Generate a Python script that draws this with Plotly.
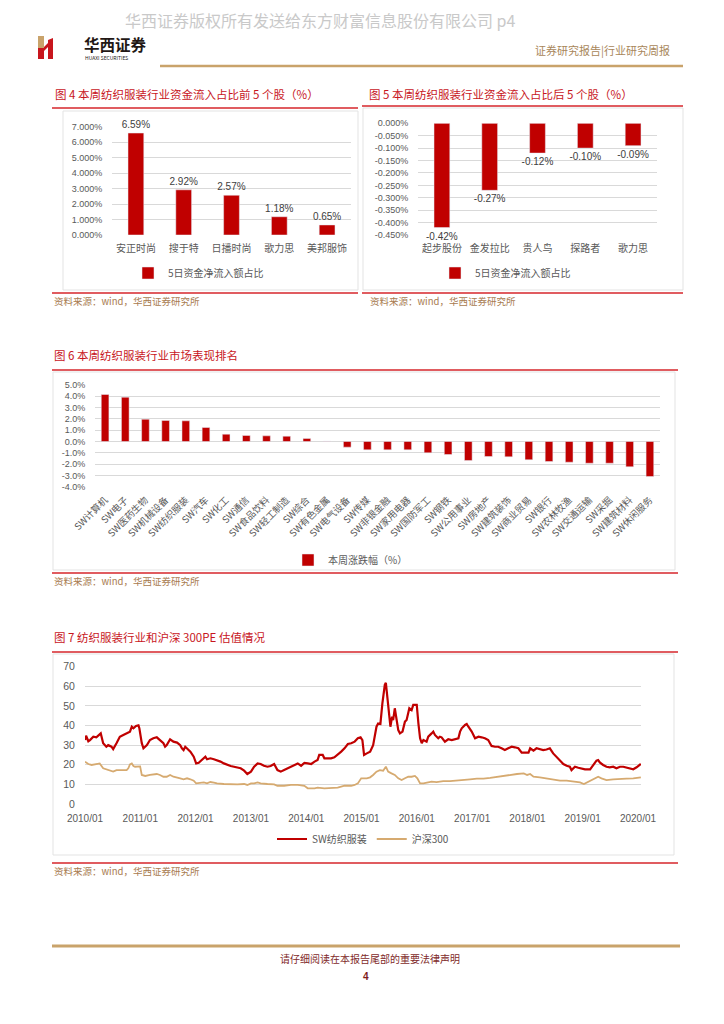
import plotly.graph_objects as go

W, H = 724, 1024


def px(x):
    return x / W


def py(y):
    return 1 - y / H


# ---------------- data ----------------
# Fig 4: top-5 stocks by 5-day net inflow share
top5_names = ['安正时尚', '搜于特', '日播时尚', '歌力思', '美邦服饰']
top5_vals = [6.59, 2.92, 2.57, 1.18, 0.65]
top5_labels = ['6.59%', '2.92%', '2.57%', '1.18%', '0.65%']
top5_tickvals = [0, 1, 2, 3, 4, 5, 6, 7]
top5_ticktext = ['0.000%', '1.000%', '2.000%', '3.000%', '4.000%', '5.000%', '6.000%', '7.000%']

# Fig 5: bottom-5 stocks
bot5_names = ['起步股份', '金发拉比', '贵人鸟', '探路者', '歌力思']
bot5_vals = [-0.42, -0.27, -0.12, -0.10, -0.09]
bot5_labels = ['-0.42%', '-0.27%', '-0.12%', '-0.10%', '-0.09%']
bot5_tickvals = [0, -0.05, -0.10, -0.15, -0.20, -0.25, -0.30, -0.35, -0.40, -0.45]
bot5_ticktext = ['0.000%', '-0.050%', '-0.100%', '-0.150%', '-0.200%', '-0.250%',
                 '-0.300%', '-0.350%', '-0.400%', '-0.450%']

# Fig 6: industry weekly performance ranking
ind_names = ['SW计算机', 'SW电子', 'SW医药生物', 'SW机械设备', 'SW纺织服装', 'SW汽车', 'SW化工',
             'SW通信', 'SW食品饮料', 'SW轻工制造', 'SW综合', 'SW有色金属', 'SW电气设备', 'SW传媒',
             'SW非银金融', 'SW家用电器', 'SW国防军工', 'SW钢铁', 'SW公用事业', 'SW房地产',
             'SW建筑装饰', 'SW商业贸易', 'SW银行', 'SW农林牧渔', 'SW交通运输', 'SW采掘',
             'SW建筑材料', 'SW休闲服务']
ind_vals = [4.16, 3.92, 1.97, 1.86, 1.83, 1.24, 0.65, 0.53, 0.50, 0.47, 0.27, 0.03, -0.50,
            -0.74, -0.74, -0.74, -1.00, -1.15, -1.68, -1.33, -1.36, -1.62, -1.77, -1.83,
            -1.92, -1.92, -2.24, -3.10]
ind_tickvals = [5, 4, 3, 2, 1, 0, -1, -2, -3, -4]
ind_ticktext = ['5.0%', '4.0%', '3.0%', '2.0%', '1.0%', '0.0%', '-1.0%', '-2.0%', '-3.0%', '-4.0%']

# Fig 7: PE valuation
sw_dates = ['2010-01-01', '2010-01-08', '2010-01-23', '2010-02-03', '2010-02-25', '2010-03-17',
            '2010-04-15', '2010-05-01', '2010-05-22', '2010-06-03', '2010-06-25', '2010-07-06',
            '2010-07-28', '2010-08-19', '2010-09-11', '2010-10-03', '2010-10-25', '2010-11-06',
            '2010-11-17', '2010-12-04', '2010-12-20', '2010-12-26', '2011-01-11', '2011-01-22',
            '2011-02-14', '2011-03-06', '2011-03-28', '2011-04-20', '2011-05-11', '2011-06-03',
            '2011-06-14', '2011-06-25', '2011-07-17', '2011-08-08', '2011-09-01', '2011-09-22',
            '2011-10-03', '2011-10-14', '2011-10-25', '2011-11-06', '2011-11-28', '2011-12-20',
            '2012-01-05', '2012-01-22', '2012-02-14', '2012-03-06', '2012-03-17', '2012-04-08',
            '2012-05-01', '2012-05-22', '2012-06-14', '2012-07-06', '2012-07-28', '2012-08-20',
            '2012-09-11', '2012-10-03', '2012-10-25', '2012-11-17', '2012-12-08', '2013-01-01',
            '2013-01-22', '2013-02-14', '2013-03-06', '2013-03-28', '2013-04-20', '2013-05-11',
            '2013-06-03', '2013-06-25', '2013-07-17', '2013-08-08', '2013-09-01', '2013-09-22',
            '2013-10-14', '2013-11-06', '2013-11-28', '2013-12-20', '2014-01-11', '2014-02-03',
            '2014-02-25', '2014-03-17', '2014-03-28', '2014-04-20', '2014-05-01', '2014-05-22',
            '2014-06-14', '2014-07-06', '2014-07-28', '2014-08-20', '2014-09-11', '2014-10-03',
            '2014-10-25', '2014-11-17', '2014-12-08', '2014-12-26', '2015-01-07', '2015-01-18',
            '2015-02-05', '2015-02-27', '2015-03-19', '2015-04-10', '2015-04-21', '2015-05-06',
            '2015-05-19', '2015-06-04', '2015-06-11', '2015-06-20', '2015-07-02', '2015-07-11',
            '2015-07-22', '2015-07-29', '2015-08-09', '2015-08-20', '2015-09-01', '2015-09-12',
            '2015-09-29', '2015-10-15', '2015-10-26', '2015-11-13', '2015-11-28', '2015-12-09',
            '2016-01-01', '2016-01-12', '2016-01-23', '2016-02-03', '2016-02-14', '2016-03-06',
            '2016-03-17', '2016-04-08', '2016-04-19', '2016-04-30', '2016-05-22', '2016-06-02',
            '2016-06-13', '2016-07-05', '2016-07-27', '2016-08-19', '2016-09-10', '2016-10-02',
            '2016-10-13', '2016-10-24', '2016-11-15', '2016-11-26', '2016-12-07', '2016-12-29',
            '2017-01-20', '2017-02-12', '2017-03-04', '2017-03-26', '2017-04-17', '2017-05-09',
            '2017-06-01', '2017-06-22', '2017-07-14', '2017-08-05', '2017-08-27', '2017-09-19',
            '2017-10-10', '2017-11-02', '2017-11-24', '2017-12-16', '2018-01-08', '2018-01-19',
            '2018-02-10', '2018-03-02', '2018-03-24', '2018-04-15', '2018-05-07', '2018-05-29',
            '2018-06-20', '2018-07-12', '2018-08-04', '2018-08-26', '2018-09-17', '2018-10-08',
            '2018-10-19', '2018-11-11', '2018-12-03', '2018-12-25', '2019-01-16', '2019-02-19',
            '2019-03-10', '2019-04-02', '2019-04-13', '2019-04-24', '2019-05-16', '2019-06-07',
            '2019-06-29', '2019-07-21', '2019-08-12', '2019-09-04', '2019-09-26', '2019-10-17',
            '2019-11-09', '2019-12-01', '2019-12-23', '2020-01-10', '2020-01-20']
sw_pe = [32.6, 34.8, 32.0, 32.6, 34.3, 34.0, 36.0, 31.0, 29.2, 30.0, 29.2, 28.0,
         31.0, 34.3, 35.2, 36.0, 36.9, 39.4, 38.6, 39.8, 40.1, 38.6, 31.0, 28.4,
         30.0, 32.6, 33.5, 34.0, 32.6, 31.0, 29.2, 30.0, 33.0, 31.8, 31.3, 30.0,
         28.4, 27.5, 29.2, 28.4, 26.7, 24.1, 20.7, 21.0, 22.4, 24.1, 22.8, 23.3,
         22.8, 22.4, 21.6, 20.7, 19.9, 19.4, 19.0, 18.5, 18.2, 17.0, 15.3, 16.5,
         19.0, 20.7, 20.4, 19.5, 19.0, 19.4, 20.4, 17.3, 16.5, 17.3, 18.2, 19.0,
         19.9, 20.7, 19.5, 21.0, 20.7, 20.4, 21.6, 22.4, 25.0, 25.0, 23.3, 23.3,
         23.3, 23.8, 25.0, 26.7, 28.4, 30.6, 31.0, 31.8, 33.5, 34.0, 32.6, 25.0,
         25.8, 26.7, 30.0, 39.4, 41.0, 40.8, 51.3, 60.7, 61.8, 54.7, 42.8, 39.4,
         44.5, 42.8, 48.8, 42.8, 37.7, 36.0, 36.9, 42.0, 42.8, 48.8, 47.9, 50.5,
         50.5, 41.0, 33.5, 31.0, 32.6, 31.8, 34.3, 36.0, 36.9, 35.2, 33.5, 34.3,
         34.0, 31.8, 33.0, 32.6, 33.0, 33.5, 36.9, 38.6, 40.3, 40.8, 39.4, 36.9,
         33.5, 34.3, 34.0, 33.5, 32.6, 29.6, 29.2, 29.2, 28.4, 27.5, 28.4, 29.2,
         28.9, 28.4, 26.2, 26.2, 26.2, 28.4, 27.2, 28.4, 27.9, 27.5, 27.8, 28.4,
         25.8, 24.1, 22.4, 20.4, 19.5, 19.0, 17.3, 19.0, 18.5, 18.2, 17.7, 17.7,
         19.9, 22.1, 22.4, 21.2, 19.9, 19.0, 18.7, 19.0, 18.2, 19.0, 19.0, 18.5,
         18.2, 17.7, 18.7, 19.9, 20.4]

hs_dates = ['2010-01-01', '2010-01-23', '2010-02-14', '2010-03-06', '2010-03-28', '2010-04-08',
            '2010-05-01', '2010-05-22', '2010-06-14', '2010-07-06', '2010-07-28', '2010-08-19',
            '2010-09-11', '2010-10-03', '2010-10-14', '2010-10-25', '2010-11-06', '2010-11-17',
            '2010-11-28', '2010-12-20', '2010-12-31', '2011-01-11', '2011-02-03', '2011-03-06',
            '2011-03-28', '2011-04-20', '2011-05-11', '2011-06-03', '2011-06-25', '2011-07-17',
            '2011-08-08', '2011-09-01', '2011-09-22', '2011-10-14', '2011-11-06', '2011-11-28',
            '2011-12-20', '2012-01-05', '2012-02-03', '2012-02-25', '2012-03-17', '2012-04-08',
            '2012-05-01', '2012-05-22', '2012-07-06', '2012-08-20', '2012-10-03', '2012-11-17',
            '2012-12-08', '2013-01-01', '2013-01-22', '2013-02-14', '2013-03-06', '2013-04-20',
            '2013-06-03', '2013-06-25', '2013-08-08', '2013-09-22', '2013-11-06', '2013-12-20',
            '2014-01-11', '2014-02-25', '2014-03-17', '2014-05-01', '2014-06-14', '2014-07-28',
            '2014-08-20', '2014-09-11', '2014-10-25', '2014-11-17', '2014-12-08', '2014-12-30',
            '2015-02-05', '2015-02-27', '2015-03-19', '2015-04-10', '2015-05-02', '2015-05-24',
            '2015-06-11', '2015-06-26', '2015-07-18', '2015-08-09', '2015-09-01', '2015-09-23',
            '2015-10-15', '2015-11-06', '2015-11-28', '2015-12-20', '2016-01-05', '2016-01-23',
            '2016-02-14', '2016-03-06', '2016-04-08', '2016-05-11', '2016-06-24', '2016-08-08',
            '2016-09-21', '2016-11-04', '2016-12-18', '2017-02-01', '2017-03-17', '2017-04-30',
            '2017-06-14', '2017-07-28', '2017-09-10', '2017-10-24', '2017-12-08', '2017-12-30',
            '2018-01-19', '2018-02-10', '2018-03-24', '2018-05-07', '2018-06-20', '2018-08-04',
            '2018-09-17', '2018-10-30', '2018-12-14', '2019-01-09', '2019-02-07', '2019-03-10',
            '2019-04-13', '2019-05-05', '2019-06-07', '2019-07-21', '2019-09-04', '2019-10-17',
            '2019-12-01', '2020-01-03', '2020-01-20']
hs_pe = [21.6, 20.4, 19.9, 20.2, 20.4, 20.7, 18.2, 17.7, 17.0, 16.5, 17.3, 17.3,
         17.0, 17.3, 18.2, 20.2, 20.7, 19.4, 19.0, 19.0, 19.2, 14.8, 14.3, 14.8,
         15.1, 15.3, 14.8, 13.9, 13.9, 14.8, 13.9, 13.6, 13.1, 12.6, 13.1, 12.6,
         11.9, 10.5, 10.9, 11.0, 10.5, 11.2, 10.9, 10.5, 10.2, 10.0, 10.0, 10.2,
         9.7, 10.5, 10.5, 11.0, 10.5, 10.2, 10.0, 9.3, 9.3, 9.7, 9.7, 9.3,
         8.0, 8.0, 8.3, 8.0, 8.0, 8.3, 8.8, 9.3, 9.3, 9.7, 10.5, 13.1,
         13.1, 13.6, 14.8, 16.5, 17.3, 17.0, 19.0, 16.5, 15.6, 14.8, 13.1, 12.2,
         13.1, 13.9, 13.9, 14.3, 13.1, 10.5, 10.5, 10.9, 11.4, 11.2, 11.7, 11.7,
         11.9, 12.2, 12.6, 12.9, 12.9, 13.3, 13.9, 14.4, 15.0, 15.3, 15.6, 14.8,
         15.3, 13.9, 13.6, 13.1, 12.6, 11.9, 11.9, 11.4, 11.0, 10.2, 11.4, 12.6,
         13.9, 13.1, 12.2, 12.6, 12.9, 12.9, 13.1, 13.4, 13.6]
pe_tickvals = [0, 10, 20, 30, 40, 50, 60, 70]

# ---------------- styles ----------------
RED = '#C00000'
FRAME_RED = '#D6262B'
TAN = '#D6AA70'
GRID = '#D9D9D9'
TICK = '#595959'
SRC = '#A87B4F'
NUM_FONT = 'Liberation Sans, Noto Sans CJK SC, sans-serif'
CJK_FONT = 'Noto Sans CJK SC, sans-serif'

fig = go.Figure()

fig.add_trace(go.Bar(
    x=top5_names, y=top5_vals, text=top5_labels, textposition='outside',
    constraintext='none', cliponaxis=False,
    textfont=dict(size=10, color='#404040', family=NUM_FONT),
    marker_color=RED, width=0.33, name='5日资金净流入额占比', showlegend=True,
    xaxis='x', yaxis='y', legend='legend'))

fig.add_trace(go.Bar(
    x=bot5_names, y=bot5_vals, text=bot5_labels, textposition='outside',
    constraintext='none', cliponaxis=False,
    textfont=dict(size=10, color='#404040', family=NUM_FONT),
    marker_color=RED, width=0.33, name='5日资金净流入额占比', showlegend=True,
    xaxis='x2', yaxis='y2', legend='legend2'))

fig.add_trace(go.Bar(
    x=ind_names, y=ind_vals, marker_color=RED, width=0.38, name='本周涨跌幅（%）',
    showlegend=True, xaxis='x3', yaxis='y3', legend='legend3'))

fig.add_trace(go.Scatter(
    x=sw_dates, y=sw_pe, mode='lines', line=dict(color=RED, width=2.2),
    name='SW纺织服装', showlegend=True, xaxis='x4', yaxis='y4', legend='legend4'))
fig.add_trace(go.Scatter(
    x=hs_dates, y=hs_pe, mode='lines', line=dict(color=TAN, width=1.8),
    name='沪深300', showlegend=True, xaxis='x4', yaxis='y4', legend='legend4'))

common_y = dict(showgrid=True, gridcolor=GRID, gridwidth=1, zeroline=False, showline=False,
                ticks='outside', ticklen=7, tickcolor='rgba(0,0,0,0)', fixedrange=True,
                automargin=False)
common_x = dict(showgrid=False, zeroline=False, showline=False, fixedrange=True,
                ticks='outside', tickcolor='rgba(0,0,0,0)', automargin=False)
legend_style = dict(xanchor='left', yanchor='middle', bgcolor='rgba(0,0,0,0)',
                    font=dict(size=10, color=TICK, family=CJK_FONT))

fig.update_layout(
    width=W, height=H, margin=dict(l=0, r=0, t=0, b=0, autoexpand=False), autosize=False,
    paper_bgcolor='white', plot_bgcolor='white', showlegend=True,
    font=dict(family=CJK_FONT),
    xaxis=dict(domain=[px(112), px(351)], anchor='y', ticklen=4,
               tickfont=dict(size=10, color=TICK, family=CJK_FONT), **common_x),
    yaxis=dict(domain=[py(235), py(126.7)], anchor='x', range=[0, 7],
               tickvals=top5_tickvals, ticktext=top5_ticktext,
               tickfont=dict(size=9, color=TICK, family=NUM_FONT), **common_y),
    xaxis2=dict(domain=[px(418), px(657)], anchor='y2', ticklen=4,
                tickfont=dict(size=10, color=TICK, family=CJK_FONT), **common_x),
    yaxis2=dict(domain=[py(235), py(123.3)], anchor='x2', range=[-0.45, 0],
                tickvals=bot5_tickvals, ticktext=bot5_ticktext,
                tickfont=dict(size=9, color=TICK, family=NUM_FONT), **common_y),
    xaxis3=dict(domain=[px(95), px(660)], anchor='y3', tickangle=-45, ticklen=3,
                tickfont=dict(size=9.5, color=TICK, family=CJK_FONT), **common_x),
    yaxis3=dict(domain=[py(486.7), py(385)], anchor='x3', range=[-4, 5],
                tickvals=ind_tickvals, ticktext=ind_ticktext,
                tickfont=dict(size=9, color=TICK, family=NUM_FONT), **common_y),
    xaxis4=dict(domain=[px(85), px(641)], anchor='y4', type='date',
                range=['2010-01-01', '2020-01-21'], tick0='2010-01-01', dtick='M12',
                tickformat='%Y/%m', ticklen=5,
                tickfont=dict(size=10, color=TICK, family=NUM_FONT), **common_x),
    yaxis4=dict(domain=[py(804), py(666.7)], anchor='x4', range=[0, 70],
                tickvals=pe_tickvals,
                tickfont=dict(size=10.5, color=TICK, family=NUM_FONT), **common_y),
    legend=dict(x=px(128), y=py(273), **legend_style),
    legend2=dict(x=px(435), y=py(273), **legend_style),
    legend3=dict(x=px(288), y=py(560), **legend_style),
    legend4=dict(x=px(272), y=py(839), orientation='h', **legend_style),
)

shapes = []


def hline(x0, x1, y, color, width):
    shapes.append(dict(type='line', xref='paper', yref='paper', x0=px(x0), x1=px(x1),
                       y0=py(y), y1=py(y), line=dict(color=color, width=width)))


def box(x0, y0, x1, y1):
    shapes.append(dict(type='rect', xref='paper', yref='paper', x0=px(x0), x1=px(x1),
                       y0=py(y1), y1=py(y0), line=dict(color='#E3E3E3', width=1)))


def poly(points, color):
    d = 'M ' + ' L '.join(f'{px(a)},{py(b)}' for a, b in points) + ' Z'
    shapes.append(dict(type='path', xref='paper', yref='paper', path=d,
                       fillcolor=color, line=dict(width=0)))


hline(160, 683, 66, '#C9A36B', 2.5)
hline(52, 680, 946, '#C9A36B', 3)

box(63, 111, 358, 290)
hline(52, 358, 108, FRAME_RED, 1.6)
hline(52, 358, 293, FRAME_RED, 1.6)

box(363, 108, 683, 290)
hline(362, 683, 106, FRAME_RED, 1.6)
hline(362, 683, 293, FRAME_RED, 1.6)

box(53, 372, 675, 570)
hline(52, 678, 370, FRAME_RED, 1.6)
hline(52, 678, 573, FRAME_RED, 1.6)

box(53, 654, 674, 855)
hline(52, 678, 652, FRAME_RED, 1.6)
hline(52, 678, 863, FRAME_RED, 1.6)

# logo icon
poly([(38, 36), (44, 36), (44, 48), (38, 48)], '#C9A36B')
poly([(38, 48), (44, 48), (44, 59), (38, 59)], '#C8161D')
poly([(44, 47), (48, 43), (48, 47), (44, 51)], '#C8161D')
poly([(48, 40), (53, 38), (53, 59), (48, 59)], '#C8161D')

fig.update_layout(shapes=shapes)

annotations = []


def text(x, y, s, size, color, anchor='left', bold=False, family=CJK_FONT):
    annotations.append(dict(xref='paper', yref='paper', x=px(x), y=py(y),
                            text=f'<b>{s}</b>' if bold else s,
                            showarrow=False, xanchor=anchor, yanchor='middle',
                            font=dict(size=size, color=color, family=family)))


TITLE_RED = '#C8161D'
text(123, 20, '华西证券版权所有发送给东方财富信息股份有限公司 p4', 16, '#C9C9C9')
text(82, 44, '华西证券', 15.5, '#231815', bold=True)
text(83, 57, 'HUAXI SECURITIES', 5, '#231815')
text(672, 50, '证券研究报告|行业研究周报', 11, '#A8865A', anchor='right')

text(53, 94, '图 4 本周纺织服装行业资金流入占比前 5 个股（%）', 11.5, TITLE_RED)
text(367, 94, '图 5 本周纺织服装行业资金流入占比后 5 个股（%）', 11.5, TITLE_RED)
text(52, 355, '图 6 本周纺织服装行业市场表现排名', 11.5, TITLE_RED)
text(52, 637, '图 7 纺织服装行业和沪深 300PE 估值情况', 11.5, TITLE_RED)

for sx, sy in [(52, 301), (368, 301), (52, 581), (52, 871)]:
    text(sx, sy, '资料来源：wind，华西证券研究所', 9.5, SRC)

text(370, 958, '请仔细阅读在本报告尾部的重要法律声明', 10, '#7F2A2A', anchor='center')
text(366, 976, '4', 10, '#7F1D1D', anchor='center', bold=True, family=NUM_FONT)

fig.update_layout(annotations=annotations)

fig.write_html('out.html', config={'displayModeBar': False},
               post_script="document.body.style.margin='0';document.body.style.overflow='hidden';")
